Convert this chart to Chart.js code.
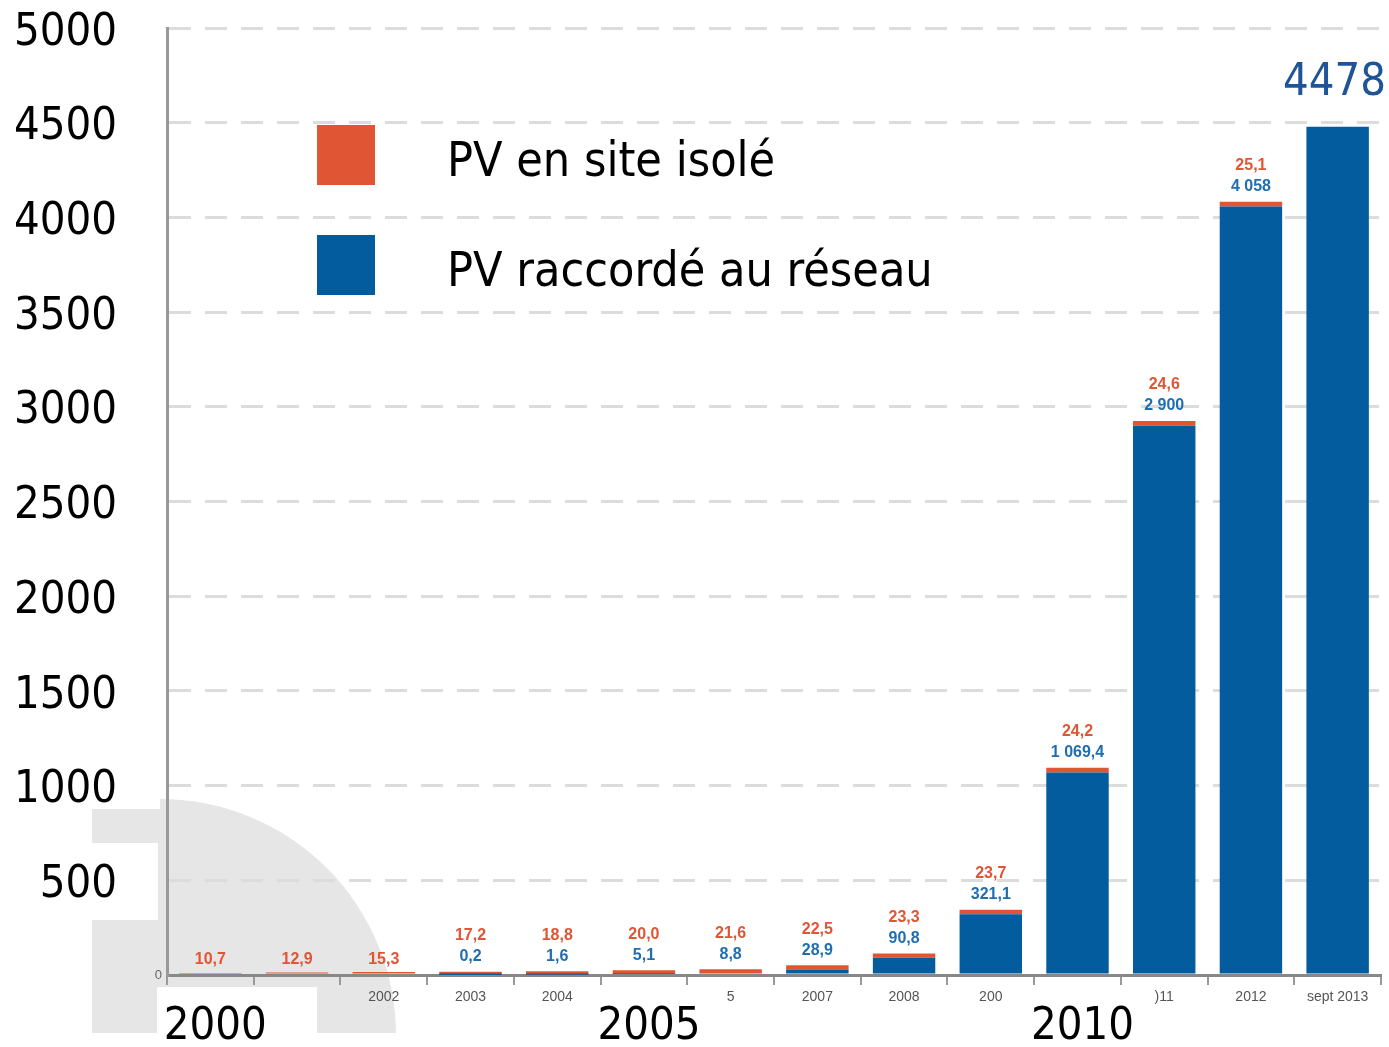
<!DOCTYPE html>
<html>
<head>
<meta charset="utf-8">
<script src="https://cdn.jsdelivr.net/npm/chart.js@4/dist/chart.umd.min.js"></script>
<style>
  html, body { margin: 0; padding: 0; background: #fff; }
  #wrap { width: 1389px; height: 1047px; }
</style>
</head>
<body>
<div id="wrap"><canvas id="c"></canvas></div>
<script>
// données (MW cumulés)
const years = ['2000', '2001', '2002', '2003', '2004', '2005', '2006', '2007', '2008', '2009', '2010', '2011', '2012', 'sept 2013'];
const smallTicks = ['', '', '2002', '2003', '2004', '', '5', '2007', '2008', '200', '', ')11', '2012', 'sept 2013'];
const bigTicks = ['2000', '', '', '', '', '2005', '', '', '', '', '2010', '', '', ''];
const isole = [10.7, 12.9, 15.3, 17.2, 18.8, 20.0, 21.6, 22.5, 23.3, 23.7, 24.2, 24.6, 25.1, null];
const reseau = [null, null, null, 0.2, 1.6, 5.1, 8.8, 28.9, 90.8, 321.1, 1069.4, 2900, 4058, 4478];
const yTicks = [0, 500, 1000, 1500, 2000, 2500, 3000, 3500, 4000, 4500, 5000];

const ORANGE = '#e05534';
const BLUE = '#035c9e';
const FONT = "'DejaVu Sans Condensed', 'DejaVu Sans', sans-serif";

const fmt = (v, dec) => {
  const s = v.toFixed(dec).split('.');
  const int = s[0].replace(/\B(?=(\d{3})+(?!\d))/g, ' ');
  return s[1] ? int + ',' + s[1] : int;
};

// fond gris + légende + étiquettes
const decor = {
  id: 'decor',
  beforeDraw(chart) {
    const ctx = chart.ctx;
    ctx.save();
    ctx.fillStyle = '#fff';
    ctx.fillRect(0, 0, chart.width, chart.height);
    ctx.fillStyle = '#e6e6e6';
    ctx.fillRect(92, 809, 70, 224);
    ctx.beginPath();
    ctx.moveTo(160, 1035);
    ctx.arc(160, 1035, 236, -Math.PI / 2, 0);
    ctx.closePath();
    ctx.fill();
    ctx.fillStyle = '#fff';
    ctx.fillRect(0, 1033, 500, 20);
    ctx.fillRect(40, 843, 118, 77);
    ctx.fillRect(157, 987, 160, 60);
    ctx.restore();
  },
  afterDatasetsDraw(chart) {
    const ctx = chart.ctx;
    const mBlue = chart.getDatasetMeta(0);
    const mOr = chart.getDatasetMeta(1);
    ctx.save();
    ctx.textAlign = 'center';
    ctx.textBaseline = 'middle';
    years.forEach((y, i) => {
      const last = i === years.length - 1;
      const top = Math.min(
        reseau[i] != null ? mBlue.data[i].y : Infinity,
        isole[i] != null ? mOr.data[i].y : Infinity);
      const x = mBlue.data[i].x;
      if (last) {
        ctx.font = "45px " + FONT;
        ctx.fillStyle = '#1f5596';
        ctx.textAlign = 'right';
        ctx.fillText(String(reseau[i]), 1386, top - 44);
        return;
      }
      ctx.font = "bold 16px 'Liberation Sans', Arial, sans-serif";
      if (reseau[i] != null) {
        ctx.fillStyle = '#1f6eb0';
        ctx.fillText(fmt(reseau[i], reseau[i] >= 2000 ? 0 : 1), x, top - 15);
        if (isole[i] != null) {
          ctx.fillStyle = ORANGE;
          ctx.fillText(fmt(isole[i], 1), x, top - 36);
        }
      } else if (isole[i] != null) {
        ctx.fillStyle = ORANGE;
        ctx.fillText(fmt(isole[i], 1), x, top - 13);
      }
    });
    ctx.restore();
  },
  afterDraw(chart) {
    const ctx = chart.ctx;
    ctx.save();
    // légende
    const items = [chart.data.datasets[1], chart.data.datasets[0]];
    items.forEach((ds, k) => {
      const yc = 155 + k * 110;
      ctx.fillStyle = ds.backgroundColor;
      ctx.fillRect(317, yc - 30, 58, 60);
      ctx.fillStyle = '#000';
      ctx.font = "48px " + FONT;
      ctx.textBaseline = 'middle';
      ctx.textAlign = 'left';
      ctx.fillText(ds.label, 447, yc + 9);
    });
    // petit zéro de l'axe
    ctx.font = "13px 'Liberation Sans', Arial, sans-serif";
    ctx.fillStyle = '#666';
    ctx.textAlign = 'right';
    ctx.fillText('0', 162, chart.scales.y.getPixelForValue(0));
    ctx.restore();
  }
};

new Chart(document.getElementById('c'), {
  type: 'bar',
  data: {
    labels: years,
    datasets: [
      { label: 'PV raccordé au réseau', data: reseau, backgroundColor: BLUE, stack: 's' },
      { label: 'PV en site isolé', data: isole, backgroundColor: ORANGE, stack: 's' }
    ]
  },
  options: {
    responsive: true,
    maintainAspectRatio: false,
    animation: false,
    categoryPercentage: 0.72,
    barPercentage: 1,
    layout: { padding: { top: 28, right: 8, left: 0, bottom: 0 } },
    plugins: { legend: { display: false }, tooltip: { enabled: false } },
    scales: {
      x: {
        stacked: true,
        position: 'bottom',
        grid: { display: true, drawOnChartArea: false, drawTicks: true, tickLength: 10, color: '#999', lineWidth: 2 },
        border: { display: true, color: '#888', width: 3 },
        ticks: {
          autoSkip: false, maxRotation: 0, padding: 4,
          color: '#555', font: { size: 14, family: "'Liberation Sans', Arial, sans-serif" },
          callback: (v, i) => smallTicks[i]
        },
        afterFit: s => { s.height = 30; s.paddingLeft = 0; s.paddingRight = 0; }
      },
      x2: {
        type: 'category',
        position: 'bottom',
        labels: bigTicks,
        offset: true,
        grid: { display: false, drawTicks: false },
        border: { display: false },
        ticks: { autoSkip: false, maxRotation: 0, padding: 0, labelOffset: 5, color: '#000', font: { size: 45, family: FONT, lineHeight: 1 } },
        afterFit: s => { s.height = 42; s.paddingLeft = 0; s.paddingRight = 0; }
      },
      y: {
        stacked: true,
        min: 0,
        max: 5000,
        afterBuildTicks: s => { s.ticks = yTicks.map(v => ({ value: v })); },
        grid: { color: '#dcdcdc', lineWidth: 3, drawTicks: false },
        border: { display: true, color: '#999', width: 3, dash: [22, 14] },
        ticks: {
          padding: 50, labelOffset: 5, color: '#000',
          font: { size: 45, family: FONT },
          callback: v => v === 0 ? '' : String(v)
        },
        afterFit: s => { s.width = 167; s.paddingTop = 0; s.paddingBottom = 0; }
      }
    }
  },
  plugins: [decor]
});
</script>
</body>
</html>
